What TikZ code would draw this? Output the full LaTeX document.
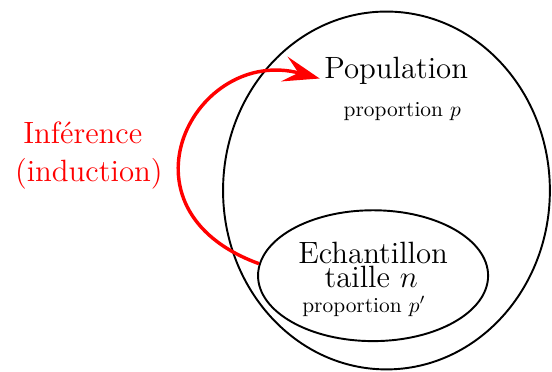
\documentclass[tikz,border=0pt]{standalone}
\usetikzlibrary{shapes.geometric,arrows.meta}
\begin{document}
\begin{tikzpicture}
	\tikzstyle{ensemble}=[draw,line width=0.9pt,ellipse,inner sep=0pt]
	\tikzstyle{titre}=[font=\Large,anchor=base,inner sep=2pt]
	\tikzstyle{proportion}=[anchor=base,inner sep=2pt]
	\tikzstyle{inference}=[titre,color=red]
	\tikzstyle{fleche}=[-{Stealth[length=6mm,width=4.2mm,inset=2.4mm]},line width=1.6pt,color=red]
	\useasboundingbox (0,0) rectangle (9.07,6.1);
	\node[ensemble,minimum width=5.37cm,minimum height=5.88cm] (Pop) at (6.35,2.97) {};
	\node[ensemble,minimum width=3.78cm,minimum height=2.15cm] (Ech) at (6.13,1.57) {};
	\node[titre] (PopNom) at (6.51,4.81) {Population};
	\node[proportion] (PopProp) at (6.61,4.19) {proportion $p$};
	\node[titre] (EchNom) at (6.13,1.77) {Echantillon};
	\node[titre] (EchTaille) at (6.10,1.38) {taille $n$};
	\node[proportion] (EchProp) at (5.98,0.97) {proportion $p'$};
	\node[inference] (InfA) at (1.36,3.75) {Inférence};
	\node[inference] (InfB) at (1.46,3.11) {(induction)};
	\draw[fleche] (Ech.174) to[out=160,in=165,out looseness=2.1,in looseness=1.7] (PopNom.base west);
\end{tikzpicture}
\end{document}
